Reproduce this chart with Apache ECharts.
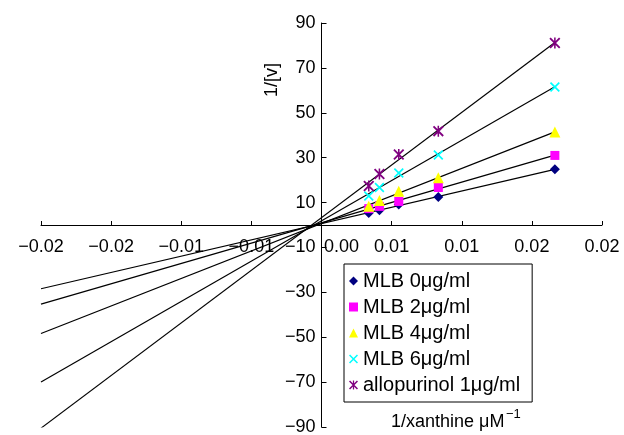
<!DOCTYPE html>
<html><head><meta charset="utf-8">
<script src="https://cdn.jsdelivr.net/npm/echarts@6/dist/echarts.min.js"></script>
<style>html,body{margin:0;padding:0;background:#fff}#c{width:624px;height:435px}</style>
</head><body><div id="c"></div>
<script>
// 1/[S] values (1/xanthine, µM^-1)
const xValues = [0.00337, 0.00413, 0.00551, 0.00833, 0.01664];
const seriesNames = ['MLB 0μg/ml', 'MLB 2μg/ml', 'MLB 4μg/ml', 'MLB 6μg/ml', 'allopurinol 1μg/ml'];
// 1/[v] values
const mlb0 = [5.3, 6.6, 9.1, 12.5, 24.8];
const mlb2 = [7.3, 8.3, 10.5, 16.7, 31.0];
const mlb4 = [8.3, 10.9, 15.0, 21.1, 41.4];
const mlb6 = [12.9, 16.7, 23.2, 31.2, 61.5];
const allopurinol = [17.4, 22.7, 31.4, 41.8, 81.1];
const xTickLabels = ['−0.02', '−0.02', '−0.01', '−0.01', '0.00', '0.01', '0.01', '0.02', '0.02'];
const yTickLabels = ['−90', '−70', '−50', '−30', '−10', '10', '30', '50', '70', '90'];

const X_MIN = -0.02, X_MAX = 0.02, X_STEP = 0.005;
const Y_MIN = -90, Y_MAX = 90, Y_STEP = 20;
const FONT = 'Liberation Sans, Arial, sans-serif';
const GRID = { left: 41, right: 22, top: 23, bottom: 8 };

const colors = ['#000080', '#FF00FF', '#FFFF00', '#00FFFF', '#800080'];
const xPath = 'path://M0,1.2L1.2,0L10,8.8L8.8,10Z M8.8,0L10,1.2L1.2,10L0,8.8Z';
const starPath = 'path://M0,1.2L1.2,0L10,8.8L8.8,10Z M8.8,0L10,1.2L1.2,10L0,8.8Z M4.3,0L5.7,0L5.7,10L4.3,10Z';
const symbols = ['diamond', 'rect', 'triangle', xPath, starPath];
const symbolSizes = [10, 9, 11, 10, 11];
const allSeries = [mlb0, mlb2, mlb4, mlb6, allopurinol];

function fit(xs, ys) {
  const n = xs.length;
  const mx = xs.reduce((a, b) => a + b, 0) / n;
  const my = ys.reduce((a, b) => a + b, 0) / n;
  let sxy = 0, sxx = 0;
  for (let i = 0; i < n; i++) { sxy += (xs[i] - mx) * (ys[i] - my); sxx += (xs[i] - mx) ** 2; }
  const b = sxy / sxx;
  return { a: my - b * mx, b: b };
}

const series = [];
allSeries.forEach((ys, k) => {
  const f = fit(xValues, ys);
  const xEnd = Math.max(...xValues);
  series.push({
    type: 'line', silent: true, symbol: 'none', z: 2,
    lineStyle: { color: '#000', width: 1.2 },
    data: [[X_MIN, f.a + f.b * X_MIN], [xEnd, f.a + f.b * xEnd]]
  });
});
allSeries.forEach((ys, k) => {
  series.push({
    name: seriesNames[k], type: 'scatter', z: 3,
    symbol: symbols[k], symbolSize: symbolSizes[k],
    itemStyle: { color: colors[k], opacity: 1 },
    data: xValues.map((x, i) => [x, ys[i]])
  });
});

const chart = echarts.init(document.getElementById('c'), null, { renderer: 'canvas' });
chart.setOption({
  animation: false,
  backgroundColor: '#fff',
  grid: Object.assign({ containLabel: false, outerBoundsMode: 'none' }, GRID),
  xAxis: {
    type: 'value', min: X_MIN, max: X_MAX, interval: X_STEP, position: 'bottom', offset: 0,
    axisLine: { onZero: false, lineStyle: { color: '#000', width: 1 } },
    axisTick: { show: true, inside: true, length: 4, lineStyle: { color: '#000' } },
    splitLine: { show: false },
    axisLabel: {
      margin: 13, fontSize: 18, color: '#000', fontFamily: FONT,
      formatter: function (v) {
        const i = Math.round((v - X_MIN) / X_STEP);
        const t = xTickLabels[i];
        return Math.abs(v) < 1e-9 ? '{z|' + t + '}' : t;
      },
      rich: { z: { fontSize: 18, fontFamily: FONT, color: '#000', padding: [0, 0, 0, 40] } }
    }
  },
  yAxis: {
    type: 'value', min: Y_MIN, max: Y_MAX, interval: Y_STEP, position: 'left', offset: 0,
    axisLine: { show: true, onZero: false, lineStyle: { color: '#000', width: 1 } },
    axisTick: { show: true, inside: true, length: 5, lineStyle: { color: '#000' } },
    splitLine: { show: false },
    axisLabel: {
      margin: 6, fontSize: 18, color: '#000', fontFamily: FONT,
      formatter: function (v) { return yTickLabels[Math.round((v - Y_MIN) / Y_STEP)]; }
    }
  },
  legend: {
    orient: 'vertical', left: 344, top: 264,
    borderColor: '#000', borderWidth: 1, borderRadius: 0,
    padding: [7, 12, 7, 5], itemGap: 6, itemWidth: 9, itemHeight: 9,
    textStyle: { fontSize: 20, color: '#000', fontFamily: FONT },
    data: seriesNames.map((n, k) => ({ name: n, icon: symbols[k] }))
  },
  graphic: [
    { type: 'text', x: 272, y: 80, rotation: Math.PI / 2,
      style: { text: '1/[v]', font: '18px ' + FONT, fill: '#000', align: 'center', verticalAlign: 'middle' } },
    { type: 'text', x: 391, y: 422,
      style: { text: '1/xanthine μM', font: '18px ' + FONT, fill: '#000', align: 'left', verticalAlign: 'middle' } },
    { type: 'text', x: 506, y: 414,
      style: { text: '−1', font: '13px ' + FONT, fill: '#000', align: 'left', verticalAlign: 'middle' } }
  ],
  series: series
});

// move both axes (line, ticks and labels) onto the zero crossing
const zero = chart.convertToPixel({ gridIndex: 0 }, [0, 0]);
const bottomY = 435 - GRID.bottom;
chart.setOption({
  xAxis: { offset: -(bottomY - zero[1]) },
  yAxis: { offset: -(zero[0] - GRID.left) }
});
</script></body></html>
